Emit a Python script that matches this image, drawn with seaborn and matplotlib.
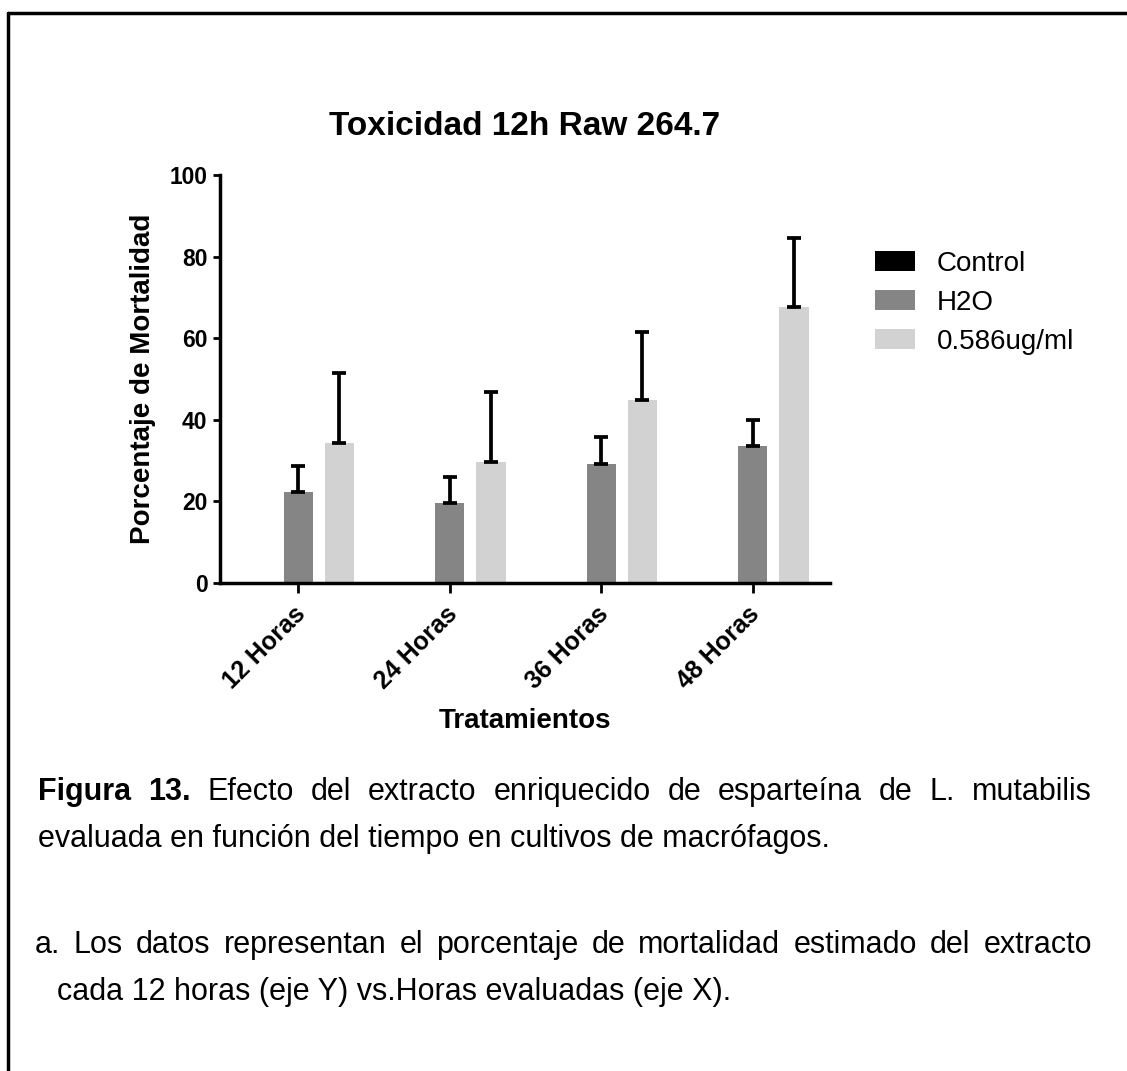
import numpy as np
import pandas as pd
import matplotlib
matplotlib.use("Agg")
import matplotlib.pyplot as plt
import seaborn as sns
from matplotlib.lines import Line2D
from matplotlib.transforms import IdentityTransform, ScaledTranslation

# ---------------- data ----------------
categories = ["12 Horas", "24 Horas", "36 Horas", "48 Horas"]
groups = ["Control", "H2O", "0.586ug/ml"]
control_mean = [0.0, 0.0, 0.0, 0.0]
control_sd = [0.0, 0.0, 0.0, 0.0]
h2o_mean = [22.2, 19.5, 29.1, 33.5]
h2o_sd = [6.4, 6.5, 6.6, 6.4]
ext_mean = [34.3, 29.7, 44.8, 67.6]
ext_sd = [17.1, 17.1, 16.8, 16.9]
y_ticks = [0, 20, 40, 60, 80, 100]

title = "Toxicidad 12h Raw 264.7"
y_label = "Porcentaje de Mortalidad"
x_label = "Tratamientos"
caption1_bold = ["Figura", "13."]
caption1_words = "Efecto del extracto enriquecido de esparteína de L. mutabilis".split()
caption1_line2 = "evaluada en función del tiempo en cultivos de macrófagos."
caption2_line1 = "a. Los datos representan el porcentaje de mortalidad estimado del extracto"
caption2_line2 = "cada 12 horas (eje Y) vs.Horas evaluadas (eje X)."

colors = ["#000000", "#858585", "#d2d2d2"]

# ---------------- figure ----------------
W, H = 1127, 1071
sns.set_style("ticks")
plt.rcParams["font.family"] = ["Liberation Sans", "DejaVu Sans"]
plt.rcParams["text.color"] = "black"
plt.rcParams["axes.labelcolor"] = "black"
plt.rcParams["xtick.color"] = "black"
plt.rcParams["ytick.color"] = "black"
plt.rcParams["axes.edgecolor"] = "black"

fig = plt.figure(figsize=(W / 100, H / 100), dpi=100)
ax = fig.add_axes([220 / W, 1 - 582.7 / H, 610 / W, 407.7 / H])

df = pd.DataFrame({
    "Tratamiento": categories * 3,
    "Grupo": np.repeat(groups, len(categories)),
    "Mortalidad": control_mean + h2o_mean + ext_mean,
})

sns.barplot(data=df, x="Tratamiento", y="Mortalidad", hue="Grupo",
            palette=colors, saturation=1, width=0.815, gap=0.29,
            errorbar=None, linewidth=0, ax=ax)

means_all = [control_mean, h2o_mean, ext_mean]
sds_all = [control_sd, h2o_sd, ext_sd]
for g, cont, means, sds in zip(groups, ax.containers, means_all, sds_all):
    if g == "Control":
        continue
    xs = [p.get_x() + p.get_width() / 2 for p in cont]
    ax.errorbar(xs, means, yerr=[np.zeros(len(sds)), sds], fmt="none",
                ecolor="black", elinewidth=2.7, capsize=5, capthick=2.7,
                zorder=3)

ax.set_ylim(0, 100)
ax.set_xlim(-0.517, 3.51)
ax.set_yticks(y_ticks)
for s in ["top", "right"]:
    ax.spines[s].set_visible(False)
for s in ["left", "bottom"]:
    ax.spines[s].set_linewidth(2.5)
    ax.spines[s].set_color("black")

ax.tick_params(axis="y", length=5, width=2, pad=4, labelsize=16.4)
ax.tick_params(axis="x", length=7, width=2, pad=7, labelsize=18)
for lab in ax.get_yticklabels():
    lab.set_fontweight("bold")
shift = ScaledTranslation(-5 / 100, 0, fig.dpi_scale_trans)
for lab in ax.get_xticklabels():
    lab.set_rotation(45)
    lab.set_ha("right")
    lab.set_va("top")
    lab.set_rotation_mode("anchor")
    lab.set_fontweight("bold")
    lab.set_transform(lab.get_transform() + shift)

ax.set_ylabel(y_label, fontsize=20, fontweight="bold", va="center")
ax.yaxis.set_label_coords(-0.126, 0.5)
ax.set_xlabel(x_label, fontsize=20, fontweight="bold", va="baseline")
ax.xaxis.set_label_coords(0.5, -(728 - 582.7) / 407.7)
ax.set_title(title, fontsize=24, fontweight="bold", y=(582.7 - 135) / 407.7,
             va="baseline", pad=0)

handles, labels = ax.get_legend_handles_labels()
ax.legend(handles, labels, loc="upper left",
          bbox_to_anchor=(875 / W, 1 - 251 / H), bbox_transform=fig.transFigure,
          frameon=False, fontsize=20, handlelength=1.45, handleheight=0.72,
          handletextpad=0.76, labelspacing=0.46, borderpad=0, borderaxespad=0)

# page border (top and left edges of the document frame)
fig.add_artist(Line2D([8 / W, 1.0], [1 - 13 / H, 1 - 13 / H],
                      transform=fig.transFigure, color="black", lw=2.5))
fig.add_artist(Line2D([8 / W, 8 / W], [0.0, 1 - 13 / H],
                      transform=fig.transFigure, color="black", lw=2.5))

# ---------------- caption ----------------
cap_fs = 22
fig.canvas.draw()
renderer = fig.canvas.get_renderer()


def justified(words, x_left, x_right, base):
    texts = []
    for w, b in words:
        t = fig.text(0, 0, w, fontsize=cap_fs, fontweight="bold" if b else "normal",
                     va="baseline", ha="left", transform=IdentityTransform())
        texts.append(t)
    widths = [t.get_window_extent(renderer).width for t in texts]
    gap = (x_right - x_left - sum(widths)) / (len(texts) - 1)
    x = x_left
    for t, wd in zip(texts, widths):
        t.set_position((x, H - base))
        x += wd + gap


def plain(s, x, base):
    fig.text(x, H - base, s, fontsize=cap_fs, va="baseline", ha="left",
             transform=IdentityTransform())


x_right = 1092
justified([(w, True) for w in caption1_bold] + [(w, False) for w in caption1_words],
          38, x_right, 800)
plain(caption1_line2, 38, 847)
justified([(w, False) for w in caption2_line1.split()], 35, x_right, 953)
plain(caption2_line2, 57, 1000)

fig.savefig("out.png", dpi=100)
